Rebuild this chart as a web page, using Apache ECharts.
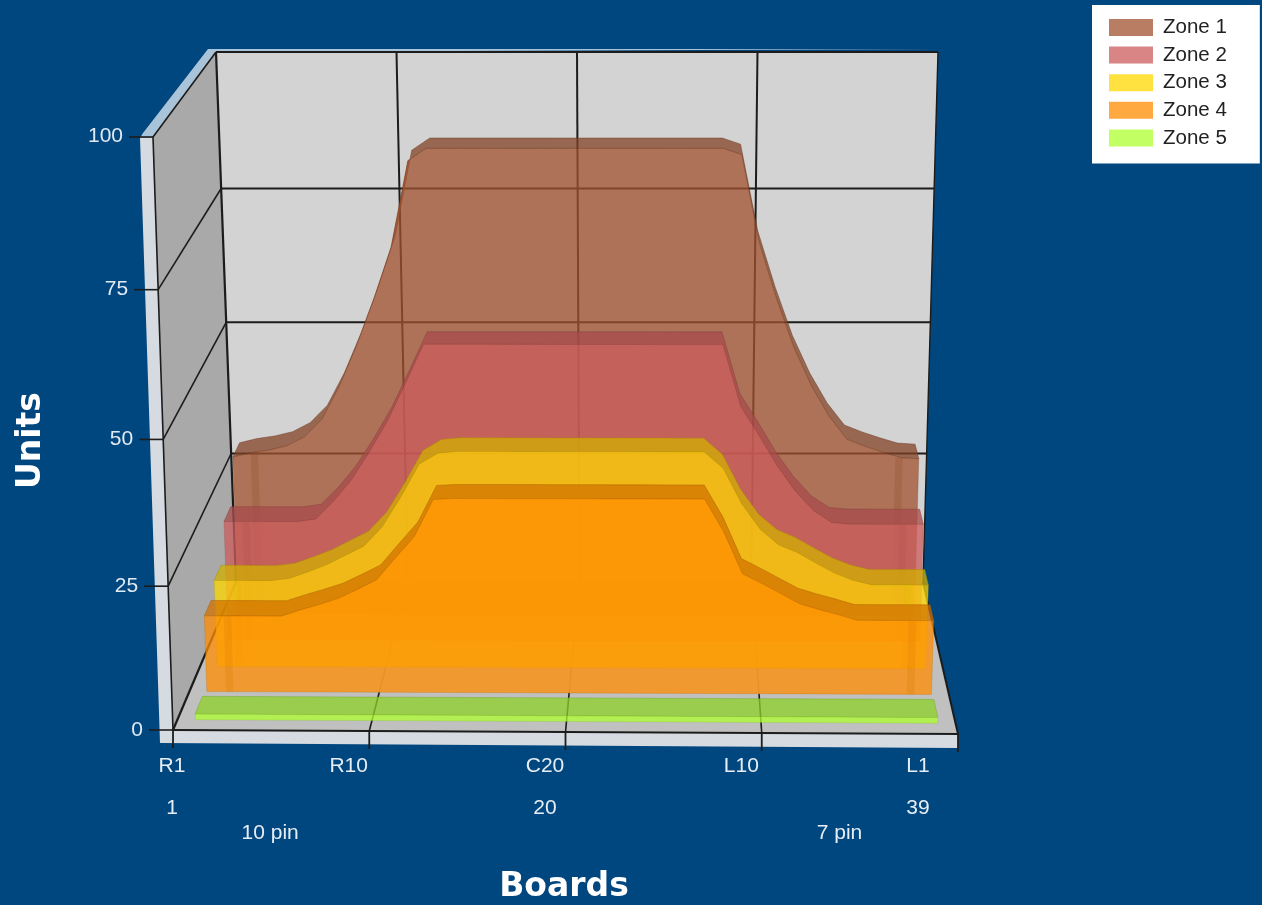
<!DOCTYPE html>
<html><head><meta charset="utf-8">
<style>html,body{margin:0;padding:0;background:#00467f;}#c{width:1262px;height:905px;}</style>
<script src="https://cdn.jsdelivr.net/npm/echarts@6/dist/echarts.min.js"></script>
</head><body><div id="c"></div>
<script>
const boards=[];for(let n=1;n<=39;n++)boards.push(String(n));
const sideLabels={1:'R1',10:'R10',20:'C20',30:'L10',39:'L1'};
const pinNumbers={1:'1',20:'20',39:'39'};
const pinNotes={6:'10 pin',35:'7 pin'};
const yTicks=[0,25,50,75,100];
const zoneNames=['Zone 1','Zone 2','Zone 3','Zone 4','Zone 5'];
const zone1=[29.8,30.6,31.1,31.9,33.6,36.9,43,50.5,59,68.4,84,86.2,86.2,86.2,86.2,86.2,86.2,86.2,86.2,86.2,86.2,86.2,86.2,86.2,86.2,86.2,86.2,86.2,85.1,69.3,59,50,43,37.4,33.2,31.9,30.8,29.8,29.6];
const zone2=[22,22,22,22,22,22.5,25.8,29.8,34.9,40.5,47.3,54.3,54.3,54.3,54.3,54.3,54.3,54.3,54.3,54.3,54.3,54.3,54.3,54.3,54.3,54.3,54.3,54.3,43.1,37.9,32.4,27.8,24.2,22,21.7,21.7,21.7,21.7,21.7];
const zone3=[15.7,15.7,15.7,15.7,16.1,17.3,18.6,20.3,22,25.5,30.8,36.7,38.7,39,39,39,39,39,39,39,39,39,39,39,39,39,39,36.1,29.8,25.2,22.4,21,19.1,17.3,16,15.2,15.2,15.2,15.2];
const zone4=[13.6,13.6,13.6,13.6,13.6,14.7,15.7,16.8,18.4,20.1,24,27.8,34.3,34.5,34.5,34.5,34.5,34.5,34.5,34.5,34.5,34.5,34.5,34.5,34.5,34.5,34.5,28.8,21.4,19.7,17.9,16.1,15.1,14.2,13.2,13.2,13.2,13.2,13.2];
const zone5=[1,1,1,1,1,1,1,1,1,1,1,1,1,1,1,1,1,1,1,1,1,1,1,1,1,1,1,1,1,1,1,1,1,1,1,1,1,1,1];
const zoneValues=[zone1,zone2,zone3,zone4,zone5];

const rgbs=[[160,82,45],[205,92,92],[255,215,0],[255,140,0],[173,255,47]];
const depths=[[.78,.89],[.61,.72],[.43,.54],[.26,.37],[.07,.19]];
const G={left:172,width:746,top:137,height:593};
const C={fbl:[173,730],fbr:[958,734],ftl:[153,137],ftr:[978,137],
         bbl:[236,582],bbr:[923,582],btl:[216,52],btr:[938,52]};
const mix=(a,b,k)=>[a[0]+(b[0]-a[0])*k,a[1]+(b[1]-a[1])*k];
function proj(u,v,t){
  const w=v-0.04*v*(1-v);
  const fb=mix(C.fbl,C.fbr,u),ft=mix(C.ftl,C.ftr,u),bb=mix(C.bbl,C.bbr,u),bt=mix(C.btl,C.btr,u);
  return mix(mix(fb,ft,w),mix(bb,bt,w),t);
}
function scaleOf(api){
  const a=api.coord([0,0]),b=api.coord([38,100]);
  return {
    u:(px)=>0.023+0.954*(px-a[0])/(b[0]-a[0]),
    v:(py)=>(a[1]-py)/(a[1]-b[1])
  };
}
const rgba=(c,a,k)=>`rgba(${Math.round(c[0]*(k||1))},${Math.round(c[1]*(k||1))},${Math.round(c[2]*(k||1))},${a})`;
const poly=(pts,fill,extra)=>({type:'polygon',shape:{points:pts},style:Object.assign({fill:fill},extra||{}),silent:true});
const seg=(a,b,color,w)=>({type:'line',shape:{x1:a[0],y1:a[1],x2:b[0],y2:b[1]},style:{stroke:color,lineWidth:w||1.6},silent:true});

function renderFrame(params,api){
  if(params.dataIndex>0)return null;
  const S=scaleOf(api),kids=[];
  const P=(u,yv,t)=>proj(u,S.v(api.coord([0,yv])[1]),t);
  kids.push(poly([[140,138],[143,133],[208,49],[938,49],[216,52],C.ftl],'#a9c3d8'));
  kids.push(poly([[140,138],C.ftl,C.fbl,C.fbr,[958,748],[160,743]],'#d5dbe0'));
  kids.push(poly([C.fbl,C.fbr,C.bbr,C.bbl],'#c0c0c0'));
  kids.push(poly([C.ftl,C.btl,C.bbl,C.fbl],'#a9a9a9'));
  kids.push(poly([C.btl,C.btr,C.bbr,C.bbl],'#d3d3d3'));
  const dark='#1c1c1c';
  yTicks.forEach(y=>{
    const f=P(0,y,0),b=P(0,y,1),r=P(1,y,1);
    if(y>0)kids.push(seg(b,r,dark,y===100?2:2));
    kids.push(seg(f,b,dark,y===0?2.2:1.6));
    kids.push(seg([f[0]-24,f[1]],f,dark,1.6));
    kids.push({type:'text',silent:true,x:f[0]-30,y:f[1]-(y===100?1:0),style:{text:String(y),fill:'#dfeaf3',font:'21px "Liberation Sans"',align:'right',verticalAlign:'middle'}});
  });
  kids.push(seg(C.ftl,C.fbl,dark,1.6));
  kids.push(seg(C.btl,C.bbl,dark,2.2));
  kids.push(seg(C.btr,C.bbr,dark,1.4));
  kids.push(seg(C.fbl,C.fbr,dark,1.8));
  kids.push(seg(C.fbr,C.bbr,dark,2));
  [0.25,0.5,0.75].forEach(u=>{
    const top=proj(u,1,1),bb=proj(u,0,1),fb=proj(u,0,0),mid=proj(u,0,.26);
    kids.push(seg(top,bb,dark,2));
    kids.push(seg(bb,mid,'rgba(28,28,28,.25)',1.2));
    kids.push(seg(mid,fb,dark,1.6));
  });
  [0,0.25,0.5,0.75,1].forEach(u=>{
    const f=proj(u,0,0);
    kids.push(seg(f,[f[0],f[1]+18],dark,1.8));
  });
  return {type:'group',children:kids};
}
function makeZone(z){
  return function(params,api){
    if(params.dataIndex>0)return null;
    const S=scaleOf(api),vals=zoneValues[z],c=rgbs[z],t0=depths[z][0],t1=depths[z][1];
    const n=vals.length,front=[],back=[];
    const us=[],vs=[];
    for(let i=0;i<n;i++){
      const p=api.coord([i,vals[i]]);
      const u=S.u(p[0]),v=S.v(p[1]);
      us.push(u);vs.push(v);
      front.push(proj(u,v,t0));back.push(proj(u,v,t1));
    }
    const bl=proj(us[0],0,t0),br=proj(us[n-1],0,t0);
    const kids=[];
    kids.push(poly(back.concat(front.slice().reverse()),rgba(c,.75,.82),{stroke:rgba(c,.55,.65),lineWidth:.8}));
    kids.push(poly([bl].concat(front,[br]),rgba(c,.75),{stroke:rgba(c,.35,.75),lineWidth:.8}));
    const band=(a,b)=>{
      const ua=us[0]+(us[n-1]-us[0])*a/38,ub=us[0]+(us[n-1]-us[0])*b/38;
      const va=vs[Math.round(a)];
      kids.push(poly([proj(ua,0,t0),proj(ua,va,t0),proj(ub,va,t0),proj(ub,0,t0)],rgba(c,.22,.85)));
    };
    if(z<4){band(1,1.4);band(36.7,37.1);}
    return {type:'group',children:kids};
  };
}
const axisBase={type:'category',data:boards,boundaryGap:false,position:'bottom',
  axisLine:{show:false},axisTick:{show:false},splitLine:{show:false}};
const labelStyle={color:'#e6eef5',fontSize:21,fontFamily:'"Liberation Sans"',hideOverlap:false,showMinLabel:true,showMaxLabel:true};
const pick=(map)=>Object.assign({},labelStyle,{interval:(i)=>map[i+1]!==undefined,formatter:(v,i)=>map[i+1]||''});
const option={
  animation:false,backgroundColor:'#00467f',
  grid:{left:G.left,width:G.width,top:G.top,height:G.height,containLabel:false,outerBoundsMode:'none'},
  legend:{orient:'vertical',left:1092,top:5,padding:[12,33,15,17],backgroundColor:'#ffffff',itemWidth:44,itemHeight:17,itemGap:6.6,
    selectedMode:false,textStyle:{color:'#222',fontSize:20.5,fontFamily:'"Liberation Sans"',lineHeight:17,padding:[0,0,0,5]},
    data:zoneNames.map((n,i)=>({name:n,icon:'rect',itemStyle:{color:rgba(rgbs[i],.75),borderWidth:0}}))},
  xAxis:[
    Object.assign({},axisBase,{axisLabel:Object.assign(pick(sideLabels),{margin:26})}),
    Object.assign({},axisBase,{axisLabel:Object.assign(pick(pinNumbers),{margin:68})}),
    Object.assign({},axisBase,{axisLabel:Object.assign(pick(pinNotes),{margin:93}),
      name:'Boards',nameLocation:'middle',nameGap:141,
      nameTextStyle:{color:'#fff',fontSize:33,fontWeight:'bold',fontFamily:'"DejaVu Sans"',padding:[0,0,0,38]}})
  ],
  yAxis:{type:'value',min:0,max:100,interval:25,position:'left',axisLine:{show:false},axisTick:{show:false},axisLabel:{show:false},splitLine:{show:false},
    name:'Units',nameLocation:'middle',nameGap:124,nameRotate:90,
    nameTextStyle:{color:'#fff',fontSize:33,fontWeight:'bold',fontFamily:'"DejaVu Sans"',padding:[0,14,0,0]}},
  series:[{type:'custom',name:'frame',coordinateSystem:'cartesian2d',silent:true,clip:false,renderItem:renderFrame,data:[[0,0]],encode:{x:0,y:1},z:1}]
    .concat(zoneNames.map((n,z)=>({type:'custom',name:n,coordinateSystem:'cartesian2d',silent:true,clip:false,z:2+z,
      itemStyle:{color:rgba(rgbs[z],.75)},renderItem:makeZone(z),encode:{x:0,y:1},
      data:zoneValues[z].map((v,i)=>[i,v])})))
};
echarts.init(document.getElementById('c')).setOption(option);
</script></body></html>
